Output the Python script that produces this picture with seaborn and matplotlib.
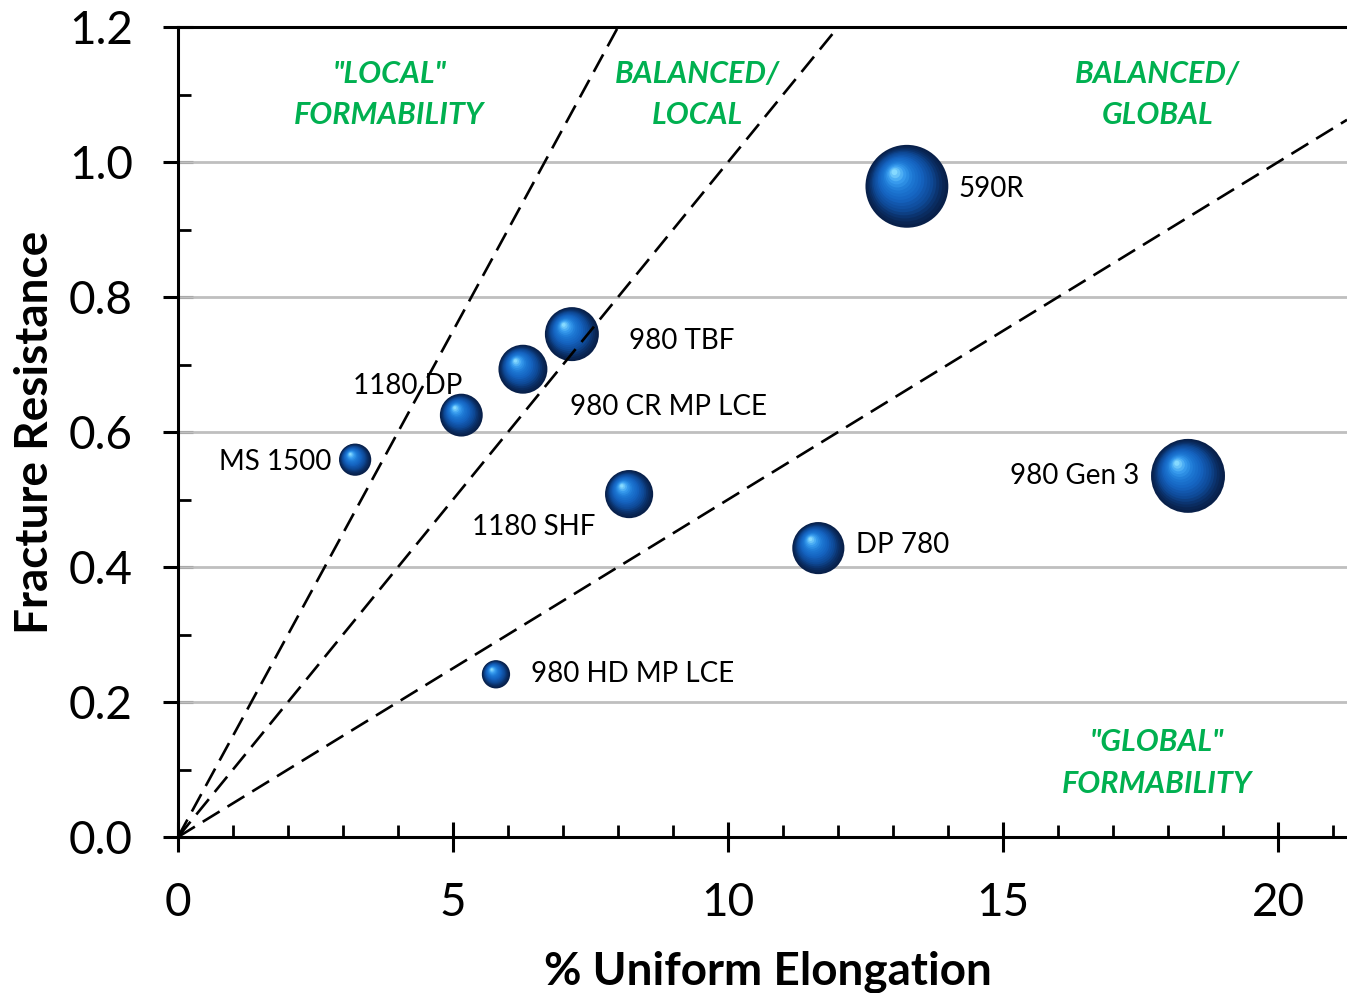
import numpy as np
import pandas as pd
import matplotlib
matplotlib.use("Agg")
import matplotlib.pyplot as plt
import seaborn as sns
from matplotlib.path import Path
from matplotlib.markers import MarkerStyle
from matplotlib.colors import LinearSegmentedColormap
from matplotlib.ticker import MultipleLocator, FormatStrFormatter

# data
steels = ["MS 1500", "1180 DP", "980 CR MP LCE", "980 TBF", "1180 SHF",
          "980 HD MP LCE", "DP 780", "590R", "980 Gen 3"]
uniform_elong = [3.22, 5.15, 6.27, 7.16, 8.20, 5.78, 11.64, 13.25, 18.36]
fracture_res = [0.559, 0.625, 0.693, 0.745, 0.508, 0.241, 0.428, 0.964, 0.535]
bubble_size = [2.6, 4.6, 6.0, 7.3, 5.8, 2.0, 6.8, 17.2, 13.7]

# boundary lines through the origin (fracture resistance / % elongation)
boundary_slopes = [0.15, 0.10, 0.05]

region_text = ['"LOCAL"\nFORMABILITY', 'BALANCED/\nLOCAL',
               'BALANCED/\nGLOBAL', '"GLOBAL"\nFORMABILITY']

x_max = 21.25
y_max = 1.2

df = pd.DataFrame({"steel": steels, "elong": uniform_elong,
                   "frac": fracture_res, "size": bubble_size})

sns.set_style("white")
plt.rcParams["font.family"] = ["Lato", "DejaVu Sans"]

fig = plt.figure(figsize=(13.47, 9.93), dpi=100)
ax = fig.add_axes([178 / 1347, 1 - 837 / 993, 1169 / 1347, 810 / 993])

# 3D-looking spheres: stacked off-centre circles, dark rim -> bright highlight
sphere_cmap = LinearSegmentedColormap.from_list(
    "sphere", ["#08204a", "#0e4895", "#1563c0", "#1d78d4", "#3a9ff0", "#86daff"])
n_layers = 18
k = 207.0  # points^2 per size unit
for i, t in enumerate(np.linspace(0, 1, n_layers)):
    r = 1.0 - 0.93 * t
    c = (-0.30 * t, 0.34 * t)
    circ = Path.circle(center=c, radius=r)
    anchor = Path([(1.0, 0.0)], [Path.MOVETO])
    mk = MarkerStyle(Path.make_compound_path(anchor, circ))
    sns.scatterplot(data=df, x="elong", y="frac", size="size",
                    sizes=(0, k * max(bubble_size)), size_norm=(0, max(bubble_size)),
                    marker=mk, color=sphere_cmap(t ** 1.3), linewidth=0,
                    legend=False, ax=ax, zorder=2 + i * 0.01)

# bubble labels (offsets in points from bubble centre)
label_style = {
    "MS 1500": (-17, -1.5, "right"),
    "1180 DP": (-78, 21, "left"),
    "980 CR MP LCE": (34, -27, "left"),
    "980 TBF": (41, -5, "left"),
    "1180 SHF": (-113, -24, "left"),
    "980 HD MP LCE": (25, 0, "left"),
    "DP 780": (27, 2, "left"),
    "590R": (37, -2, "left"),
    "980 Gen 3": (-35, 0, "right"),
}
for name, xv, yv in zip(steels, uniform_elong, fracture_res):
    dx, dy, ha = label_style[name]
    ax.annotate(name, (xv, yv), xytext=(dx, dy), textcoords="offset points",
                ha=ha, va="center", fontsize=20, color="black", zorder=3)

# dashed boundary lines
for s in boundary_slopes:
    line_df = pd.DataFrame({"x": [0, x_max], "y": [0, s * x_max]})
    sns.lineplot(data=line_df, x="x", y="y", color="black", lw=1.9,
                 dashes=False, ax=ax, zorder=4)
    ax.lines[-1].set_dashes((7.5, 3.5))

# region annotations
region_pos = [(3.84, 1.1), (9.44, 1.1), (17.8, 1.1), (17.8, 0.11)]
for txt, (xv, yv) in zip(region_text, region_pos):
    ax.text(xv, yv, txt, ha="center", va="center", fontsize=22,
            fontweight="bold", fontstyle="italic", color="#00b050",
            linespacing=1.6, zorder=3)

ax.set_xlim(0, x_max)
ax.set_ylim(0, y_max)
ax.set_xticks([0, 5, 10, 15, 20])
ax.set_yticks(np.arange(0, 1.21, 0.2))
ax.xaxis.set_minor_locator(MultipleLocator(1))
ax.yaxis.set_minor_locator(MultipleLocator(0.1))
ax.yaxis.set_major_formatter(FormatStrFormatter("%.1f"))
ax.tick_params(which="major", direction="inout", length=21, width=2.2,
               labelsize=33, pad=22, colors="black")
ax.tick_params(which="minor", direction="in", length=9, width=2, colors="black")
ax.tick_params(top=False, right=False, which="both")
ax.tick_params(bottom=True, left=True, which="both")

ax.grid(False)
for yv in [0.2, 0.4, 0.6, 0.8, 1.0]:
    ax.axhline(yv, color="#bfbfbf", lw=2, zorder=1)

for side in ["left", "bottom", "top"]:
    ax.spines[side].set_color("black")
    ax.spines[side].set_linewidth(2.2)
ax.spines["right"].set_visible(False)

ax.set_xlabel("% Uniform Elongation", fontsize=33, fontweight="bold", color="black")
ax.set_ylabel("Fracture Resistance", fontsize=33, fontweight="bold", color="black")
ax.xaxis.set_label_coords(0.505, -0.14)
ax.yaxis.set_label_coords(-0.104, 0.5)

fig.savefig("out.png", dpi=100)
plt.close(fig)
